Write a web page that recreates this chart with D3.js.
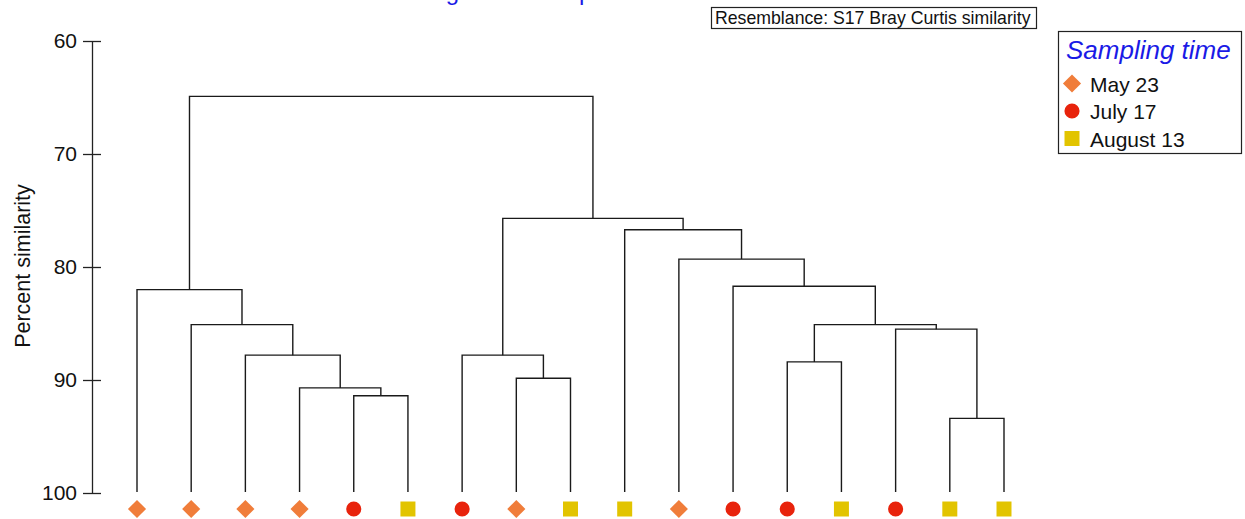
<!DOCTYPE html>
<html>
<head>
<meta charset="utf-8">
<script src="https://cdn.jsdelivr.net/npm/d3@7"></script>
<style>
  html, body { margin: 0; padding: 0; background: #fff; }
  svg { display: block; font-family: "Liberation Sans", Arial, sans-serif; }
</style>
</head>
<body>
<svg id="chart" width="1245" height="519"></svg>
<script>
// Sampling time of each sample, in dendrogram leaf order
const leafGroups = ["May 23", "May 23", "May 23", "May 23", "July 17", "August 13",
  "July 17", "May 23", "August 13", "August 13", "May 23", "July 17",
  "July 17", "August 13", "July 17", "August 13", "August 13"];

// Group-average linkage: [child A, child B, similarity %]
// ids 0-16 are samples, each merge creates the next id (17, 18, ...)
const mergeA = [15, 4, 3, 7, 12, 6, 2, 14, 1, 21, 0, 11, 10, 9, 22, 27];
const mergeB = [16, 5, 18, 8, 13, 20, 19, 17, 23, 24, 25, 26, 28, 29, 30, 31];
const mergeSim = [93.4, 91.4, 90.7, 89.85, 88.4, 87.8, 87.8, 85.5, 85.1, 85.1,
  82.0, 81.7, 79.3, 76.7, 75.7, 64.9];

const yTicks = [60, 70, 80, 90, 100];
const legendLabels = ["May 23", "July 17", "August 13"];
const legendColors = ["#f07d3a", "#e8230c", "#e2c400"];

const svg = d3.select("#chart");

const y = d3.scaleLinear().domain([60, 100]).range([41, 493]);
const x = d3.scalePoint().domain(d3.range(leafGroups.length)).range([137, 1004]);
const color = d3.scaleOrdinal().domain(legendLabels).range(legendColors);

// symbol per sampling time
const diamond = d3.symbol().type(d3.symbolSquare).size(165)();
const circle = d3.symbol().type(d3.symbolCircle).size(180)();
const square = d3.symbol().type(d3.symbolSquare).size(225)();
const symbolFor = g => g === "May 23" ? diamond : g === "July 17" ? circle : square;
const rotFor = g => g === "May 23" ? " rotate(45)" : "";

// build the tree from the merge list
const nodes = leafGroups.map((g, i) => ({ leaf: i, group: g, sim: 100 }));
mergeA.forEach((a, k) => {
  nodes.push({ children: [nodes[a], nodes[mergeB[k]]], sim: mergeSim[k] });
});
const root = d3.hierarchy(nodes[nodes.length - 1]);
root.eachAfter(n => {
  n.px = n.children ? d3.mean(n.children, c => c.px) : x(n.data.leaf);
});

// title (sits above the top edge of the page)
svg.append("text")
  .attr("x", 367).attr("y", 0)
  .attr("fill", "#1a1ae6")
  .style("font-size", "24px")
  .text("Dendrogram of samples");

// y axis
const axis = d3.axisLeft(y).tickValues(yTicks).tickSizeInner(9).tickSizeOuter(0).tickPadding(6);
const gAxis = svg.append("g").attr("transform", "translate(92,0)").call(axis);
gAxis.select(".domain").attr("stroke", "#222").attr("stroke-width", 1.3);
gAxis.selectAll(".tick line").attr("x1", 9).attr("stroke", "#222").attr("stroke-width", 1.3);
gAxis.selectAll(".tick text")
  .attr("fill", "#111")
  .style("font-size", "21px")
  .style("font-family", "'Liberation Sans', Arial, sans-serif");

svg.append("text")
  .attr("transform", "translate(30,266) rotate(-90)")
  .attr("text-anchor", "middle")
  .attr("fill", "#111")
  .style("font-size", "21.5px")
  .text("Percent similarity");

// dendrogram branches
svg.append("g")
  .selectAll("path")
  .data(root.descendants().filter(n => n.children))
  .join("path")
  .attr("fill", "none")
  .attr("stroke", "#1a1a1a")
  .attr("stroke-width", 1.4)
  .attr("d", n => {
    const [a, b] = n.children;
    const yn = y(n.data.sim);
    const ya = a.children ? y(a.data.sim) : y(100) - 1;
    const yb = b.children ? y(b.data.sim) : y(100) - 1;
    return `M${a.px},${ya}V${yn}H${b.px}V${yb}`;
  });

// sample markers
svg.append("g")
  .selectAll("path")
  .data(root.leaves())
  .join("path")
  .attr("d", n => symbolFor(n.data.group))
  .attr("transform", n => `translate(${n.px},509)${rotFor(n.data.group)}`)
  .attr("fill", n => color(n.data.group));

// resemblance note
svg.append("rect")
  .attr("x", 711.5).attr("y", 7.5).attr("width", 325).attr("height", 21)
  .attr("fill", "#fff").attr("stroke", "#222").attr("stroke-width", 1.2);
svg.append("text")
  .attr("x", 715).attr("y", 24)
  .attr("fill", "#111")
  .style("font-size", "17.7px")
  .text("Resemblance: S17 Bray Curtis similarity");

// legend
const lg = svg.append("g");
lg.append("rect")
  .attr("x", 1058.5).attr("y", 31.5).attr("width", 183).attr("height", 122)
  .attr("fill", "#fff").attr("stroke", "#222").attr("stroke-width", 1.2);
lg.append("text")
  .attr("x", 1066).attr("y", 59)
  .attr("fill", "#1a1ae6")
  .style("font-size", "26px").style("font-style", "italic")
  .text("Sampling time");
const items = lg.selectAll("g.item")
  .data(legendLabels)
  .join("g")
  .attr("class", "item")
  .attr("transform", (d, i) => `translate(1072,${83.5 + i * 27.5})`);
items.append("path")
  .attr("d", d => symbolFor(d))
  .attr("transform", d => rotFor(d))
  .attr("fill", d => color(d));
items.append("text")
  .attr("x", 18).attr("y", 8)
  .attr("fill", "#111")
  .style("font-size", "21px")
  .text(d => d);
</script>
</body>
</html>
